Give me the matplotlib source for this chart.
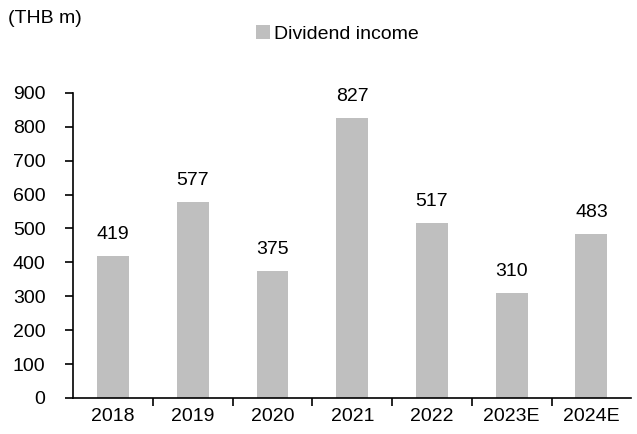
import matplotlib
matplotlib.use("Agg")
import matplotlib.pyplot as plt
import numpy as np

plt.rcParams['font.family'] = ['Liberation Sans', 'DejaVu Sans']

years = ['2018', '2019', '2020', '2021', '2022', '2023E', '2024E']
dividend = [419, 577, 375, 827, 517, 310, 483]

fig = plt.figure(figsize=(6.37, 4.34), dpi=100)
ax = fig.add_axes([0.115, 0.083, 0.876, 0.703])

x = np.arange(len(years))
bars = ax.bar(x, dividend, width=0.4, color='#bfbfbf', label='Dividend income')
for xi, v in zip(x, dividend):
    ax.text(xi, v + 38, str(v), ha='center', va='bottom', fontsize=14)

ax.set_xlim(-0.5, len(years) - 0.5)
ax.set_ylim(0, 900)
ax.set_yticks(range(0, 901, 100))
ax.tick_params(axis='y', labelsize=14, length=6, width=1.2, direction='out', pad=14)

# categories labelled in the middle, ticks at boundaries
ax.set_xticks(x)
ax.set_xticklabels(years, fontsize=14)
ax.tick_params(axis='x', which='major', length=0, pad=7)
ax.set_xticks(np.arange(0.5, len(years) - 0.5, 1), minor=True)
ax.tick_params(axis='x', which='minor', length=6, width=1.2, direction='out')

for s in ['top', 'right']:
    ax.spines[s].set_visible(False)
for s in ['left', 'bottom']:
    ax.spines[s].set_linewidth(1.2)

fig.text(0.012, 0.958, '(THB m)', fontsize=14, va='center', ha='left')
fig.legend(handles=[bars], labels=['Dividend income'], loc='center',
           bbox_to_anchor=(0.53, 0.922), frameon=False, fontsize=14,
           handlelength=0.7, handleheight=0.7, handletextpad=0.2)

fig.savefig('out.png', dpi=100)
